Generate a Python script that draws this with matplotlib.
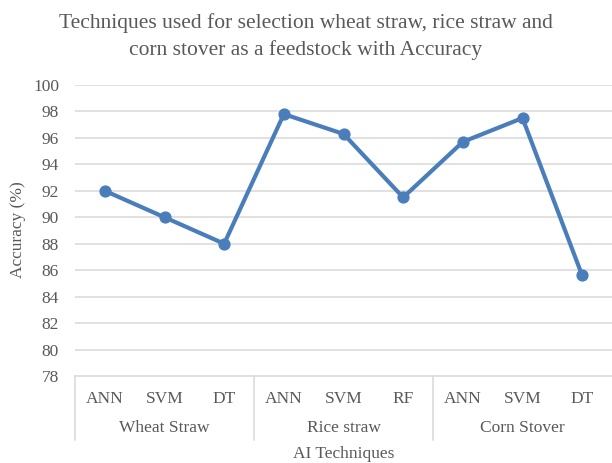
import matplotlib
matplotlib.use("Agg")
import matplotlib.pyplot as plt
from matplotlib.lines import Line2D

plt.rcParams['font.family'] = ['Liberation Serif', 'DejaVu Serif']

groups = ["Wheat Straw", "Rice straw", "Corn Stover"]
techniques = ["ANN", "SVM", "DT", "ANN", "SVM", "RF", "ANN", "SVM", "DT"]
accuracy = [92.0, 90.0, 88.0, 97.8, 96.3, 91.5, 95.7, 97.5, 85.6]
yticks = list(range(78, 101, 2))

text_col = '#595959'
line_col = '#4a7ebb'
grid_col = '#d9d9d9'
fs = 12.5

fig = plt.figure(figsize=(6.12, 4.63), dpi=100)
ax = fig.add_axes([75 / 612, 1 - 376 / 463, 537 / 612, 291 / 463])

x = list(range(len(accuracy)))
ax.plot(x, accuracy, color=line_col, lw=3.0, marker='o', ms=7.8,
        solid_joinstyle='round', zorder=3)

ax.set_xlim(-0.5, len(x) - 0.5)
ax.set_ylim(78, 100)
ax.set_yticks(yticks)
ax.set_yticklabels([str(t) for t in yticks])
ax.set_xticks(x)
ax.set_xticklabels(techniques)
ax.tick_params(axis='y', length=0, pad=11.5, labelsize=fs, labelcolor=text_col)
ax.tick_params(axis='x', length=0, pad=10.5, labelsize=fs, labelcolor=text_col)

for t in yticks[1:]:
    ax.axhline(t, color=grid_col, lw=1.1, zorder=1)

for side in ['left', 'right', 'top']:
    ax.spines[side].set_visible(False)
ax.spines['bottom'].set_color(grid_col)
ax.spines['bottom'].set_linewidth(1.1)

# group labels and separators under the technique labels
tr = ax.get_xaxis_transform()
for i, g in enumerate(groups):
    ax.text(i * 3 + 1, -0.179, g, transform=tr, ha='center', va='center',
            fontsize=fs, color=text_col)
for b in [-0.5, 2.5, 5.5]:
    ax.add_line(Line2D([b, b], [0, -0.220], transform=tr, color=grid_col,
                       lw=1.1, clip_on=False))

ax.text(0.5, -0.268, "AI Techniques", transform=ax.transAxes, ha='center',
        va='center', fontsize=fs, color=text_col)
fig.text(18 / 612, 1 - 230 / 463, "Accuracy (%)", rotation=90, ha='center',
         va='center', fontsize=fs, color=text_col)

fig.text(0.5, 1 - 23 / 463, "Techniques used for selection wheat straw, rice straw and",
         ha='center', va='center', fontsize=15.5, color=text_col)
fig.text(0.5, 1 - 50 / 463, "corn stover as a feedstock with Accuracy",
         ha='center', va='center', fontsize=15.5, color=text_col)

fig.savefig("out.png", dpi=100, facecolor='white')
